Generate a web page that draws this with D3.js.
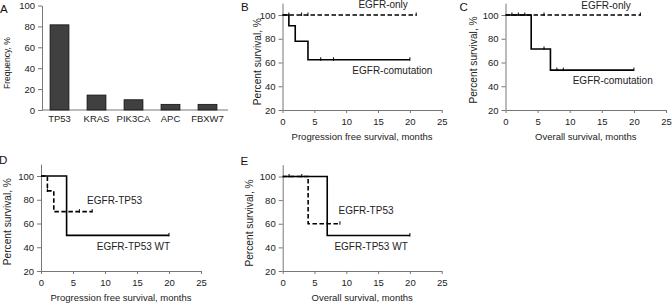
<!DOCTYPE html>
<html>
<head>
<meta charset="utf-8">
<script src="https://cdn.jsdelivr.net/npm/d3@7"></script>
<style>
body { margin: 0; background: #fff; }
svg { font-family: "Liberation Sans", Arial, sans-serif; }
</style>
</head>
<body>
<div class="container"></div>
<script>
const wd = 672
const ht = 304

// panel A: mutation frequency
const genes = ["TP53", "KRAS", "PIK3CA", "APC", "FBXW7"]
const freq = [81.5, 14.3, 9.8, 5.4, 5.4]
const freqTicks = [0, 20, 40, 60, 80, 100]

// survival ticks
const survTicks = [20, 40, 60, 80, 100]
const monthTicks = [0, 5, 10, 15, 20, 25]

// B: progression free survival, EGFR-only vs EGFR-comutation
const bOnlyT = [0], bOnlyS = [100], bOnlyEnd = 21, bOnlyCens = [1, 3, 4, 21]
const bComT = [0, 1, 2, 4], bComS = [100, 90.9, 77.9, 62.3], bComEnd = 20, bComCens = [6, 8, 20]

// C: overall survival
const cOnlyT = [0], cOnlyS = [100], cOnlyEnd = 21, cOnlyCens = [1, 2, 3, 6, 21]
const cComT = [0, 4, 7], cComS = [100, 71.4, 53.6], cComEnd = 20, cComCens = [6, 8, 9, 20]

// D: progression free survival, EGFR-TP53 vs EGFR-TP53 WT
const dTpT = [0, 1, 2], dTpS = [100, 87.5, 70], dTpEnd = 8, dTpCens = [1, 6, 8]
const dWtT = [0, 4], dWtS = [100, 50], dWtEnd = 20, dWtCens = [20]

// E: overall survival
const eTpT = [0, 4], eTpS = [100, 60], eTpEnd = 9, eTpCens = [1, 3, 7, 9]
const eWtT = [0, 7], eWtS = [100, 50], eWtEnd = 20, eWtCens = [20]

const svgC = d3.select(".container")
  .append("svg")
  .attr("width", wd)
  .attr("height", ht)

const axCol = "#777"
const txtCol = "#222"

function styleAxis(g) {
  g.select(".domain").attr("stroke", axCol).attr("stroke-width", 1)
  g.selectAll(".tick line").attr("stroke", axCol)
  g.selectAll(".tick text").attr("fill", txtCol).style("font-size", "9.5px")
  g.attr("font-family", null)
}

function letter(t, x, y) {
  svgC.append("text").attr("x", x).attr("y", y)
    .style("font-size", "11.5px").attr("fill", "#111").text(t)
}

// ---------- panel A ----------
const xA = d3.scaleBand().domain(genes).range([41, 226]).paddingInner(0.49).paddingOuter(0.245)
const yA = d3.scaleLinear().domain([0, 100]).range([110, 5.5])

svgC.append("g")
  .attr("transform", "translate(42,0)")
  .call(d3.axisLeft(yA).tickValues(freqTicks).tickSize(4).tickPadding(3).tickSizeOuter(0))
  .call(styleAxis)

svgC.append("line")
  .attr("x1", 42).attr("x2", 228)
  .attr("y1", yA(0)).attr("y2", yA(0))
  .attr("stroke", axCol)

svgC.selectAll(".bar")
  .data(genes)
  .enter().append("rect")
  .attr("x", d => xA(d))
  .attr("width", xA.bandwidth())
  .attr("y", (d, i) => yA(freq[i]))
  .attr("height", (d, i) => yA(0) - yA(freq[i]))
  .attr("fill", "#404040")
  .attr("stroke", "#111")
  .attr("stroke-width", 0.8)

svgC.selectAll(".glab")
  .data(genes)
  .enter().append("text")
  .attr("x", d => xA(d) + xA.bandwidth() / 2)
  .attr("y", 122)
  .attr("text-anchor", "middle")
  .style("font-size", "9.5px")
  .attr("fill", txtCol)
  .text(d => d)

svgC.append("text")
  .attr("transform", "translate(10,63) rotate(-90)")
  .attr("text-anchor", "middle")
  .style("font-size", "8.5px")
  .attr("fill", txtCol)
  .text("Frequency, %")

letter("A", 0, 13)

// ---------- KM panels ----------
function kmPanel(p) {
  const x = d3.scaleLinear().domain([0, 25]).range([p.x0, p.x1])
  const y = d3.scaleLinear().domain([20, 100]).range([p.y20, p.y100])

  svgC.append("g")
    .attr("transform", `translate(${p.x0},0)`)
    .call(d3.axisLeft(y.copy().domain([20, 110]).range([p.y20, y(110)])).tickValues(survTicks).tickSize(4).tickPadding(3).tickSizeOuter(0))
    .call(styleAxis)

  svgC.append("g")
    .attr("transform", `translate(0,${p.y20})`)
    .call(d3.axisBottom(x).tickValues(monthTicks).tickSize(3).tickPadding(5).tickSizeOuter(0))
    .call(styleAxis)

  const line = d3.line().x(d => x(d[0])).y(d => y(d[1])).curve(d3.curveStepAfter)

  p.series.forEach(s => {
    const pts = s.t.map((t, i) => [t, s.s[i]])
    pts.push([s.end, s.s[s.s.length - 1]])
    svgC.append("path")
      .attr("d", line(pts))
      .attr("fill", "none")
      .attr("stroke", "#000")
      .attr("stroke-width", 1.6)
      .attr("stroke-dasharray", s.dash ? "4.5,2.5" : null)

    // censor marks
    const survAt = t => {
      let v = s.s[0]
      s.t.forEach((tt, i) => { if (tt <= t) v = s.s[i] })
      return v
    }
    s.cens.forEach(c => {
      svgC.append("line")
        .attr("x1", x(c)).attr("x2", x(c))
        .attr("y1", y(survAt(c)) - 2.5).attr("y2", y(survAt(c)) + 1)
        .attr("stroke", "#000").attr("stroke-width", 1)
    })

    svgC.append("text")
      .attr("x", x(s.lx)).attr("y", y(s.ly))
      .attr("text-anchor", "middle")
      .style("font-size", "10px")
      .attr("fill", txtCol)
      .text(s.name)
  })

  svgC.append("text")
    .attr("x", (p.x0 + p.x1) / 2).attr("y", p.y20 + 29.5)
    .attr("text-anchor", "middle")
    .style("font-size", "9.5px")
    .attr("fill", txtCol)
    .text(p.xtitle)

  svgC.append("text")
    .attr("transform", `translate(${p.x0 - p.tdx},${p.tcy}) rotate(-90)`)
    .attr("text-anchor", "middle")
    .style("font-size", "10.2px")
    .attr("fill", txtCol)
    .text("Percent survival, %")

  letter(p.letter, p.lx, p.ly)
}

kmPanel({
  letter: "B", lx: 241, ly: 10.5, tdx: 22, tcy: 61.7,
  x0: 282.5, x1: 441.7, y20: 110, y100: 15,
  xtitle: "Progression free survival, months",
  series: [
    { name: "EGFR-only", t: bOnlyT, s: bOnlyS, end: bOnlyEnd, cens: bOnlyCens, dash: true, lx: 15.8, ly: 105.5 },
    { name: "EGFR-comutation", t: bComT, s: bComS, end: bComEnd, cens: bComCens, dash: false, lx: 17.25, ly: 50.3 }
  ]
})

kmPanel({
  letter: "C", lx: 459.5, ly: 10.5, tdx: 29, tcy: 60,
  x0: 505.5, x1: 666, y20: 110, y100: 15,
  xtitle: "Overall survival, months",
  series: [
    { name: "EGFR-only", t: cOnlyT, s: cOnlyS, end: cOnlyEnd, cens: cOnlyCens, dash: true, lx: 15.65, ly: 105 },
    { name: "EGFR-comutation", t: cComT, s: cComS, end: cComEnd, cens: cComCens, dash: false, lx: 16.7, ly: 41.9 }
  ]
})

kmPanel({
  letter: "D", lx: -1, ly: 163.5, tdx: 30.5, tcy: 221.7,
  x0: 41, x1: 201, y20: 271, y100: 176,
  xtitle: "Progression free survival, months",
  series: [
    { name: "EGFR-TP53", t: dTpT, s: dTpS, end: dTpEnd, cens: dTpCens, dash: true, lx: 11.5, ly: 76.2 },
    { name: "EGFR-TP53 WT", t: dWtT, s: dWtS, end: dWtEnd, cens: dWtCens, dash: false, lx: 14.45, ly: 37.5 }
  ]
})

kmPanel({
  letter: "E", lx: 240.5, ly: 165, tdx: 29.5, tcy: 223,
  x0: 282.7, x1: 441.7, y20: 271, y100: 176.5,
  xtitle: "Overall survival, months",
  series: [
    { name: "EGFR-TP53", t: eTpT, s: eTpS, end: eTpEnd, cens: eTpCens, dash: true, lx: 13.1, ly: 68.5 },
    { name: "EGFR-TP53 WT", t: eWtT, s: eWtS, end: eWtEnd, cens: eWtCens, dash: false, lx: 13.9, ly: 38 }
  ]
})
</script>
</body>
</html>
